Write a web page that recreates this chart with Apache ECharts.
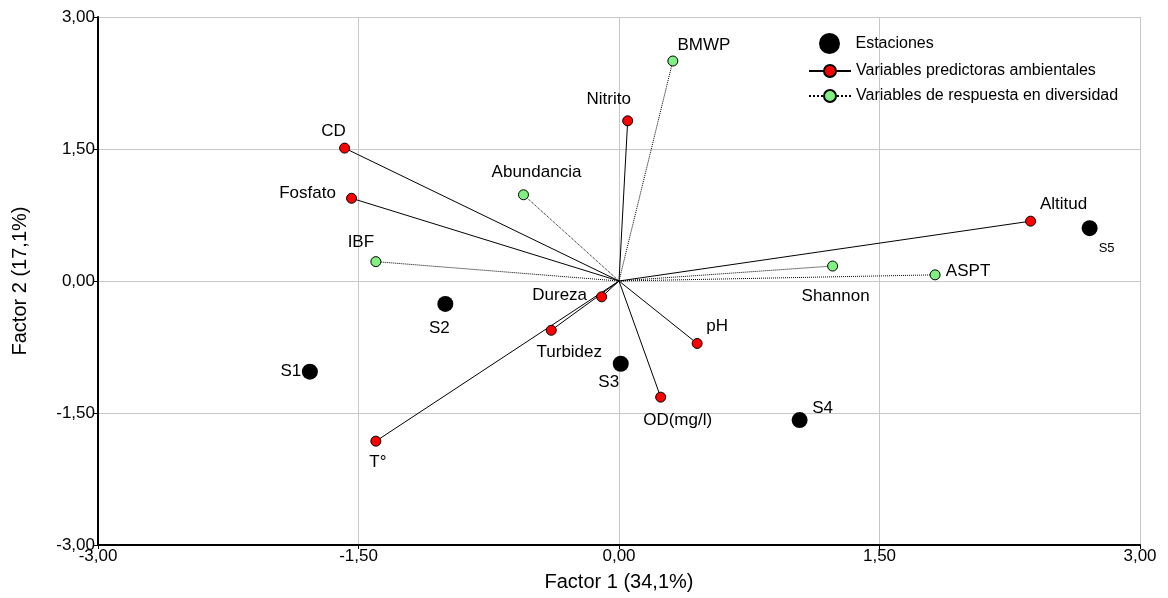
<!DOCTYPE html>
<html>
<head>
<meta charset="utf-8">
<script src="https://cdn.jsdelivr.net/npm/echarts@6/dist/echarts.min.js"></script>
<style>
html,body{margin:0;padding:0;background:#fff;}
#c{width:1168px;height:598px;}
</style>
</head>
<body>
<div id="c"></div>
<script>
// Stations
const stationNames = ['S1','S2','S3','S4','S5'];
const stationX = [-1.78, -1.00, 0.01, 1.04, 2.71];
const stationY = [-1.03, -0.26, -0.94, -1.58, 0.60];

// Environmental predictor variables
const predNames = ['Nitrito','CD','Fosfato','Altitud','Dureza','Turbidez','pH','OD(mg/l)','T°'];
const predX = [0.05, -1.58, -1.54, 2.37, -0.10, -0.39, 0.45, 0.24, -1.40];
const predY = [1.82, 1.51, 0.94, 0.68, -0.18, -0.56, -0.71, -1.32, -1.82];

// Diversity response variables
const respNames = ['BMWP','Abundancia','IBF','Shannon','ASPT'];
const respX = [0.31, -0.55, -1.40, 1.23, 1.82];
const respY = [2.50, 0.98, 0.22, 0.17, 0.07];

// Axis ticks
const axisMin = -3, axisMax = 3, axisStep = 1.5;

// label placement (pixel offsets from point) - styling
const labelOffsets = {
  'S1':[-19,0],'S2':[-6,24],'S3':[-12,19],'S4':[23,-12],'S5':[17,20],
  'Nitrito':[-19,-22],'CD':[-11,-17],'Fosfato':[-44,-5],'Altitud':[33,-17],
  'Dureza':[-42,-2],'Turbidez':[18,22],'pH':[20,-17],'OD(mg/l)':[17,23],'T°':[2,21],
  'BMWP':[31,-16],'Abundancia':[13,-22],'IBF':[-15,-19],'Shannon':[3,30],'ASPT':[33,-4]
};

const FONT = '"Liberation Sans", Arial, sans-serif';
const PRED = 'Variables predictoras ambientales';
const RESP = 'Variables de respuesta en diversidad';
const STA = 'Estaciones';

function lbl(name, size) {
  return {show:true, position:'inside', offset:labelOffsets[name], formatter:name,
    color:'#000', fontFamily:FONT, fontSize:size||17, align:'center', verticalAlign:'middle'};
}

const series = [];
series.push({
  name: STA, type:'scatter', symbol:'circle', symbolSize:16, z:5,
  itemStyle:{color:'#000', opacity:1},
  emphasis:{disabled:true},
  data: stationNames.map((n,i)=>({value:[stationX[i],stationY[i]], label:lbl(n, n==='S5'?13:17)}))
});
function vectorSeries(name, names, xs, ys, color, type) {
  names.forEach((n,i)=>{
    series.push({
      name: name, type:'line', symbol:'circle', symbolSize:10, z:4,
      lineStyle:{color:'#000', width:1, type:type},
      itemStyle:{color:color, borderColor:'#000', borderWidth:1},
      emphasis:{disabled:true},
      data:[{value:[0,0], symbol:'none', label:{show:false}},
            {value:[xs[i],ys[i]], label:lbl(n)}]
    });
  });
}
vectorSeries(PRED, predNames, predX, predY, '#ff0000', 'solid');
vectorSeries(RESP, respNames, respX, respY, '#80f080', 'dotted');

const fmt = v => v.toFixed(2).replace('.', ',');
const legendText = {fontFamily:FONT, fontSize:16, color:'#000'};

const option = {
  animation:false,
  backgroundColor:'#fff',
  grid:{left:98, right:28, top:17, bottom:53, containLabel:false},
  legend:[{
    orient:'vertical', left:819, top:33, padding:0, itemWidth:42, itemHeight:21, itemGap:0,
    data:[STA], textStyle:legendText, selectedMode:false
  },{
    orient:'vertical', left:808, top:63, padding:0, itemWidth:42, itemHeight:15, itemGap:9,
    data:[PRED, RESP], textStyle:legendText, selectedMode:false
  }],
  xAxis:{
    type:'value', min:axisMin, max:axisMax, interval:axisStep,
    name:'Factor 1 (34,1%)', nameLocation:'middle', nameGap:27,
    nameTextStyle:{fontFamily:FONT, fontSize:20, color:'#000'},
    axisLine:{onZero:false, lineStyle:{color:'#000', width:2}},
    axisTick:{show:true, length:4, lineStyle:{color:'#000'}},
    axisLabel:{formatter:fmt, fontFamily:FONT, fontSize:17, color:'#000', margin:3},
    splitLine:{show:true, lineStyle:{color:'#c8c8c8', width:1}}
  },
  yAxis:{
    type:'value', min:axisMin, max:axisMax, interval:axisStep,
    name:'Factor 2 (17,1%)', nameLocation:'middle', nameGap:68,
    nameTextStyle:{fontFamily:FONT, fontSize:20, color:'#000'},
    axisLine:{onZero:false, lineStyle:{color:'#000', width:2}},
    axisTick:{show:true, length:5, lineStyle:{color:'#000'}},
    axisLabel:{formatter:fmt, fontFamily:FONT, fontSize:17, color:'#000', margin:3},
    splitLine:{show:true, lineStyle:{color:'#c8c8c8', width:1}}
  },
  series: series
};
const chart = echarts.init(document.getElementById('c'), null, {renderer:'canvas'});
chart.setOption(option);
</script>
</body>
</html>
